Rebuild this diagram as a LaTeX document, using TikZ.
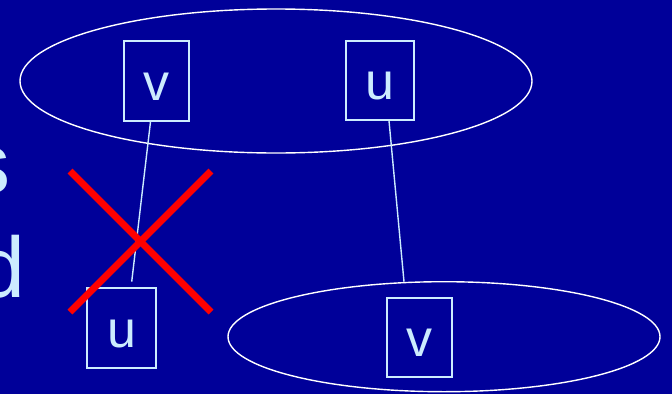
\documentclass[tikz,border=0pt]{standalone}
\usepackage{fontspec}
\setmainfont{Liberation Sans}
\definecolor{bg}{RGB}{0,0,153}
\definecolor{lblue}{RGB}{204,236,255}
\tikzset{
  vbox/.style={draw=lblue, line width=1.6pt, text=lblue, minimum width=65pt, minimum height=80pt,
    inner sep=0pt, text height=38pt, text depth=0pt, font=\fontsize{52}{60}\selectfont},
  grp/.style={draw=white, line width=1.4pt},
  conn/.style={draw=lblue, line width=1.4pt},
  cross/.style={draw=red, line width=7pt},
  bigtext/.style={text=lblue, inner sep=0pt, font=\fontsize{86}{100}\selectfont}
}
\begin{document}
\begin{tikzpicture}[x=1pt,y=-1pt]
\fill[bg] (0,0) rectangle (672,394);
\useasboundingbox (0,0) rectangle (672,394);
% left clipped text
\node[bigtext, anchor=base east] (ts) at (10.5,193) {s};
\node[bigtext, anchor=base east] (td) at (26,297) {d};
% groups
\draw[grp] (276,81) ellipse [x radius=256pt, y radius=72pt];
\draw[grp] (444,336.7) ellipse [x radius=216pt, y radius=55pt];
% boxes
\node[vbox] (v1) at (156.5,81) {v};
\node[vbox, minimum width=68pt, minimum height=79pt] (u1) at (380,80.5) {u};
\node[vbox, minimum width=69pt] (u2) at (121.5,328) {u};
\node[vbox, minimum height=79pt] (v2) at (419.5,337.5) {v};
% connectors
\coordinate (e1) at (131.7,281.7);
\coordinate (e2) at (404,281.7);
\draw[conn] ([xshift=-6pt]v1.south) -- (e1);
\draw[conn] ([xshift=9pt]u1.south) -- (e2);
% red cross
\coordinate (c1) at (70,171);
\coordinate (c2) at (211,312);
\coordinate (c3) at (211,171);
\coordinate (c4) at (70,312);
\draw[cross] (c1) -- (c2);
\draw[cross] (c3) -- (c4);
\end{tikzpicture}
\end{document}
